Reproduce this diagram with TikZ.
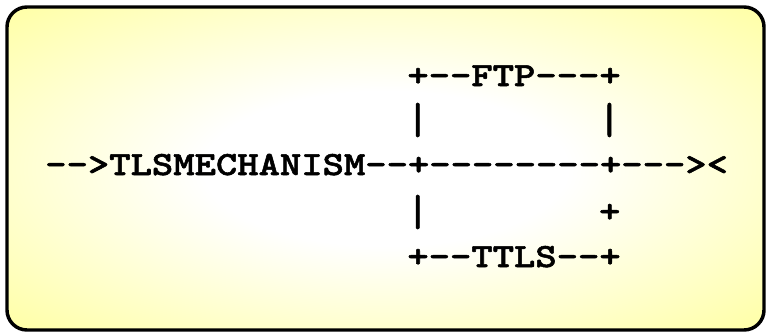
\documentclass[tikz,border=0pt]{standalone}
\usepackage{fontspec}
\newfontfamily\railfont[Extension=.otf, FakeStretch=1.2, FakeBold=1.6]{lmmonolt10-bold}
\pgfdeclareradialshading{glow}{\pgfpoint{0bp}{0bp}}{color(0bp)=(white); color(12bp)=(white); color(62bp)=(yellow!75)}

\begin{document}
\begin{tikzpicture}[x=0.75pt, y=-0.75pt,
    row/.style={anchor=base west, inner sep=0pt, font=\railfont\fontsize{25.4}{30}\selectfont},
    bar/.style={row, anchor=center}]
  \useasboundingbox (0,0) rectangle (770,335);
  \draw[line width=2.6pt, rounded corners=15pt, shading=glow] (7,7) rectangle (764,330);

  \node[row] (ftp) at (45+17*21.3, 86) {+--FTP---+};
  \node[bar] (barl) at (45+17.5*21.3, 120) {\scalebox{1}[1.3]{|}};
  \node[bar] (barr) at (45+26.5*21.3, 120) {\scalebox{1}[1.3]{|}};
  \node[row] (main) at (45, 175) {-->TLSMECHANISM--+--------+---><};
  \node[bar] (barl') at (45+17.5*21.3, 212) {\scalebox{1}[1.3]{|}};
  \node[row] (plusr) at (45+26*21.3, 222) {+};
  \node[row] (ttls) at (45+17*21.3, 267) {+--TTLS--+};
\end{tikzpicture}
\end{document}
